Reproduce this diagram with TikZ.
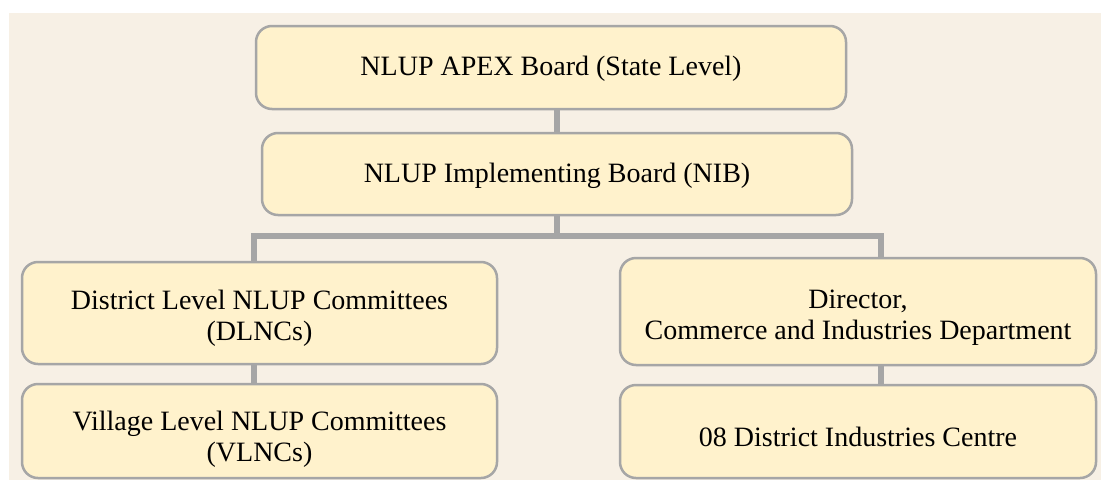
\documentclass[tikz,border=0pt]{standalone}
\usepackage{fontspec}
\setmainfont{Liberation Serif}
\usetikzlibrary{calc}
\definecolor{panel}{HTML}{F7F0E5}
\definecolor{boxfill}{HTML}{FFF2CC}
\definecolor{edgegray}{HTML}{A6A6A6}
\begin{document}
\begin{tikzpicture}[x=0.5pt,y=-0.5pt,
  orgbox/.style={draw=edgegray, line width=1.25pt, fill=boxfill, rounded corners=8pt,
    inner sep=0pt},
  boxtext/.style={align=center, inner sep=0pt, font=\fontsize{14}{15.5}\selectfont},
  conn/.style={draw=edgegray, line width=2.6pt}]
\useasboundingbox (0,0) rectangle (1101,482);
\fill[panel] (9,13) rectangle (1101,480);

% top two boards
\node[orgbox, minimum width=295pt, minimum height=41.5pt] (apex) at (551,67.5) {};
\node[orgbox, minimum width=295pt, minimum height=41pt] (nib) at (557,174) {};

% left branch
\node[orgbox, minimum width=237.5pt, minimum height=51pt] (dlnc) at (259.5,313) {};
\node[orgbox, minimum width=237.5pt, minimum height=47pt] (vlnc) at (259.5,431) {};

% right branch
\node[orgbox, minimum width=238pt, minimum height=53.5pt] (dir) at (858,311.5) {};
\node[orgbox, minimum width=238pt, minimum height=46.5pt] (dic) at (858,431.5) {};

% labels, set slightly below the box centres
\node[boxtext] (apex-t) at ($(apex.center)+(0,1)$) {NLUP APEX Board (State Level)};
\node[boxtext] (nib-t) at ($(nib.center)+(0,1.5)$) {NLUP Implementing Board (NIB)};
\node[boxtext] (dlnc-t) at ($(dlnc.center)+(0,5.5)$) {District Level NLUP Committees\\(DLNCs)};
\node[boxtext] (vlnc-t) at ($(vlnc.center)+(0,8.5)$) {Village Level NLUP Committees\\(VLNCs)};
\node[boxtext] (dir-t) at ($(dir.center)+(0,6)$) {Director,\\Commerce and Industries Department};
\node[boxtext] (dic-t) at ($(dic.center)+(0,5)$) {08 District Industries Centre};

% branching points of the tree
\coordinate (jl) at (254,236);
\coordinate (jr) at (881,236);

\draw[conn] (apex.south -| nib.north) -- (nib.north);
\draw[conn] (nib.south) -- (nib.south |- jl);
\draw[conn] (dlnc.north -| jl) -- (jl) -- (jr) -- (dir.north -| jr);
\draw[conn] (dlnc.south -| jl) -- (vlnc.north -| jl);
\draw[conn] (dir.south -| jr) -- (dic.north -| jr);
\end{tikzpicture}
\end{document}
